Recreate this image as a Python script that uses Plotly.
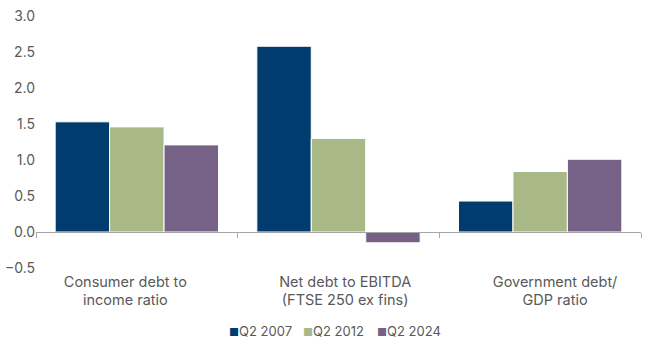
import plotly.graph_objects as go

categories = ["Consumer debt to<br>income ratio", "Net debt to EBITDA<br>(FTSE 250 ex fins)", "Government debt/<br>GDP ratio"]
series_names = ["Q2 2007", "Q2 2012", "Q2 2024"]
q2_2007 = [1.53, 2.58, 0.43]
q2_2012 = [1.46, 1.30, 0.84]
q2_2024 = [1.21, -0.15, 1.01]
colors = ["#003c6e", "#a8b987", "#766187"]
y_ticks = [-0.5, 0.0, 0.5, 1.0, 1.5, 2.0, 2.5, 3.0]

font_family = "Inter, Roboto, Arial, sans-serif"
text_color = "#595959"

fig = go.Figure()
for name, vals, col in zip(series_names, [q2_2007, q2_2012, q2_2024], colors):
    fig.add_trace(go.Bar(x=categories, y=vals, name=name, marker=dict(color=col, line=dict(color="white", width=1)),
                         showlegend=False))
    fig.add_trace(go.Scatter(x=[None], y=[None], mode="markers",
                             name=f'<span style="color:{col};font-size:11px">■</span>{name}',
                             marker=dict(symbol="square", size=1, color="rgba(0,0,0,0)"), showlegend=True))
# spacer legend entry so the last visible entry is not clipped
fig.add_trace(go.Scatter(x=[None], y=[None], mode="markers", name=" ",
                         marker=dict(size=1, color="rgba(0,0,0,0)"), showlegend=True, hoverinfo="skip"))

# category label axis (labels sit slightly off the bar-group centres, as in the original)
label_shift = [-0.057, 0.033, 0.074]
label_pos = [i + s for i, s in enumerate(label_shift)]

fig.update_layout(
    width=650, height=350,
    margin=dict(l=36, r=9, t=16, b=82, autoexpand=False),
    barmode="group", bargap=0.19, bargroupgap=0,
    plot_bgcolor="white", paper_bgcolor="white",
    font=dict(family=font_family, size=14, color=text_color),
    xaxis=dict(showline=False, ticks="", showgrid=False, zeroline=False, showticklabels=False, automargin=False),
    xaxis2=dict(overlaying="x", anchor="free", position=0.5 / 3.5, matches="x", showline=True,
                linecolor="#a6a6a6", linewidth=1, ticks="outside", ticklen=5, tickcolor="#a6a6a6",
                tickson="boundaries", showticklabels=False, showgrid=False, zeroline=False, side="bottom"),
    xaxis3=dict(overlaying="x", anchor="y", range=[-0.5, 2.5], tickmode="array", tickvals=label_pos,
                ticktext=categories, showline=False, ticks="", showgrid=False, zeroline=False,
                tickfont=dict(size=14.5), ticklabelstandoff=3, automargin=False),
    yaxis=dict(range=[-0.5, 3.0], tickvals=y_ticks, tickformat=".1f", showgrid=False, zeroline=False,
               showline=False, ticks="", tickfont=dict(size=14), automargin=False),
    legend=dict(orientation="h", x=(229 - 40 - 36) / 605, xanchor="left", y=-0.19, yanchor="top",
                font=dict(size=13), itemwidth=30, entrywidth=29, tracegroupgap=0),
    showlegend=True,
)
fig.add_trace(go.Scatter(x=categories, y=[None] * 3, xaxis="x2", showlegend=False, hoverinfo="skip"))
fig.add_trace(go.Scatter(x=label_pos, y=[None] * 3, xaxis="x3", showlegend=False, hoverinfo="skip"))

fig.write_html("out.html")
